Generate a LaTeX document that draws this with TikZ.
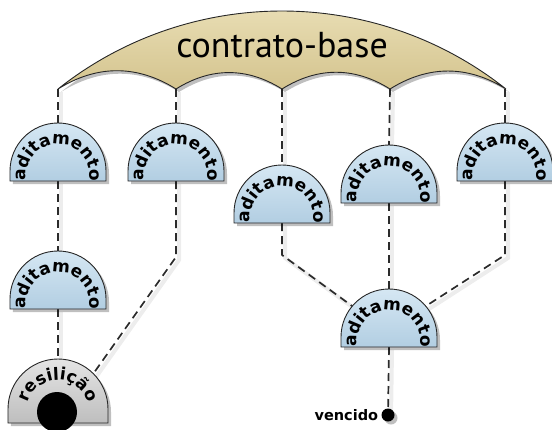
\documentclass[tikz,border=0pt]{standalone}
\usepackage{fontspec}
\setmainfont{PT Sans}
\newfontfamily\labelfamily{DejaVu Sans}
\usetikzlibrary{decorations.text, shadows, positioning, backgrounds}

\definecolor{archtop}{HTML}{EEE4BE}
\definecolor{archbot}{HTML}{D4C48E}
\definecolor{domtop}{HTML}{D5E7F3}
\definecolor{dombot}{HTML}{B2CEE2}
\definecolor{captop}{HTML}{E4E4E4}
\definecolor{capbot}{HTML}{BEBEBE}
\definecolor{linkgray}{HTML}{2B2B2B}

\newcommand{\domefont}{\labelfamily\bfseries\fontsize{17bp}{17bp}\selectfont}

\begin{document}
\begin{tikzpicture}[
    x=1bp, y=1bp,
    outline/.style={draw=black!85, line width=0.9bp},
    softshadow/.style={drop shadow={shadow xshift=3bp, shadow yshift=-3bp, opacity=0.25, fill=black}},
    link/.style={draw=linkgray, line width=1.7bp, dash pattern=on 8bp off 5bp, line join=round,
        preaction={draw=black!7, solid, line width=4bp, transform canvas={shift={(3bp,-3bp)}}}},
    basetext/.style={font=\fontsize{36bp}{36bp}\selectfont, anchor=base, inner sep=0pt},
    endtext/.style={font=\labelfamily\bfseries\fontsize{14.5bp}{14.5bp}\selectfont, inner sep=0pt},
    dome/.pic={
        \path[outline, top color=domtop, bottom color=dombot, softshadow]
            (-48bp,0) -- (-48bp,10bp) arc[start angle=180, end angle=0, radius=48bp] -- (48bp,0) -- cycle;
        \path[decorate, decoration={text along path, text align=center,
            text={|\domefont|#1}}]
            (0,5bp) ++(192:32bp) arc[start angle=192, end angle=-12, radius=32bp];
        \coordinate (-top) at (0,58bp);
        \coordinate (-bottom) at (0,0);
        \path (0,10bp) ++(140:48bp) coordinate (-nw);
        \path (0,10bp) ++(40:48bp) coordinate (-ne);
    },
    endcap/.pic={
        \path[outline, top color=captop, bottom color=capbot, softshadow]
            (-50bp,0) -- (-50bp,14bp) arc[start angle=180, end angle=0, radius=50bp] -- (50bp,0) -- cycle;
        \fill[black] (-1bp,11bp) circle[radius=20bp];
        \path[decorate, decoration={text along path, text align=center,
            text={|\domefont|#1}}]
            (0,12bp) ++(180:31bp) arc[start angle=180, end angle=0, radius=31bp];
        \coordinate (-top) at (0,64bp);
        \path (0,14bp) ++(45:50bp) coordinate (-ne);
    }
]
    \useasboundingbox (0,0) rectangle (552,429);

    % Contract arch
    \path[outline, top color=archtop, bottom color=archbot, softshadow]
        (58,340) arc[start angle=128.4, end angle=51.6, radius=360.6bp]
        to[bend right=32] (390,340) to[bend right=32] (282,340)
        to[bend right=32] (176,340) to[bend right=32] (58,340) -- cycle;
    \node[basetext] (base) at (282,372) {contrato-base};
    \coordinate (tip1) at (58,340);
    \coordinate (tip2) at (176,340);
    \coordinate (tip3) at (282,340);
    \coordinate (tip4) at (390,340);
    \coordinate (tip5) at (505,340);

    % Amendments
    \pic (a1) at (58,248)  {dome=aditamento};
    \pic (a2) at (176,248) {dome=aditamento};
    \pic (a3) at (282,206) {dome=aditamento};
    \pic (a4) at (389,226) {dome=aditamento};
    \pic (a5) at (505,248) {dome=aditamento};
    \pic (a6) at (58,120)  {dome=aditamento};
    \pic (a7) at (389,82)  {dome=aditamento};
    \pic (res) at (58,6)   {endcap=resilição};

    % End point
    \node[circle, fill=black, inner sep=0pt, minimum size=13bp, softshadow] (end) at (388,14) {};
    \node[endtext, left=3bp of end] (venc) {vencido};

    % Connections
    \begin{scope}[on background layer]
    \draw[link] (tip1) -- (a1-top);
    \draw[link] (tip2) -- (a2-top);
    \draw[link] (tip3) -- (a3-top);
    \draw[link] (tip4) -- (a4-top);
    \draw[link] (tip5) -- (a5-top);
    \draw[link] (a1-bottom) -- (a6-top);
    \draw[link] (a6-bottom) -- (res-top);
    \draw[link] (a2-bottom) -- ++(0,-76) -- (res-ne);
    \draw[link] (a3-bottom) -- ++(0,-32) -- (a7-nw);
    \draw[link] (a5-bottom) -- ++(0,-74) -- (a7-ne);
    \draw[link] (a4-bottom) -- (a7-top);
    \draw[link] (a7-bottom) -- (end);
    \end{scope}
\end{tikzpicture}
\end{document}
